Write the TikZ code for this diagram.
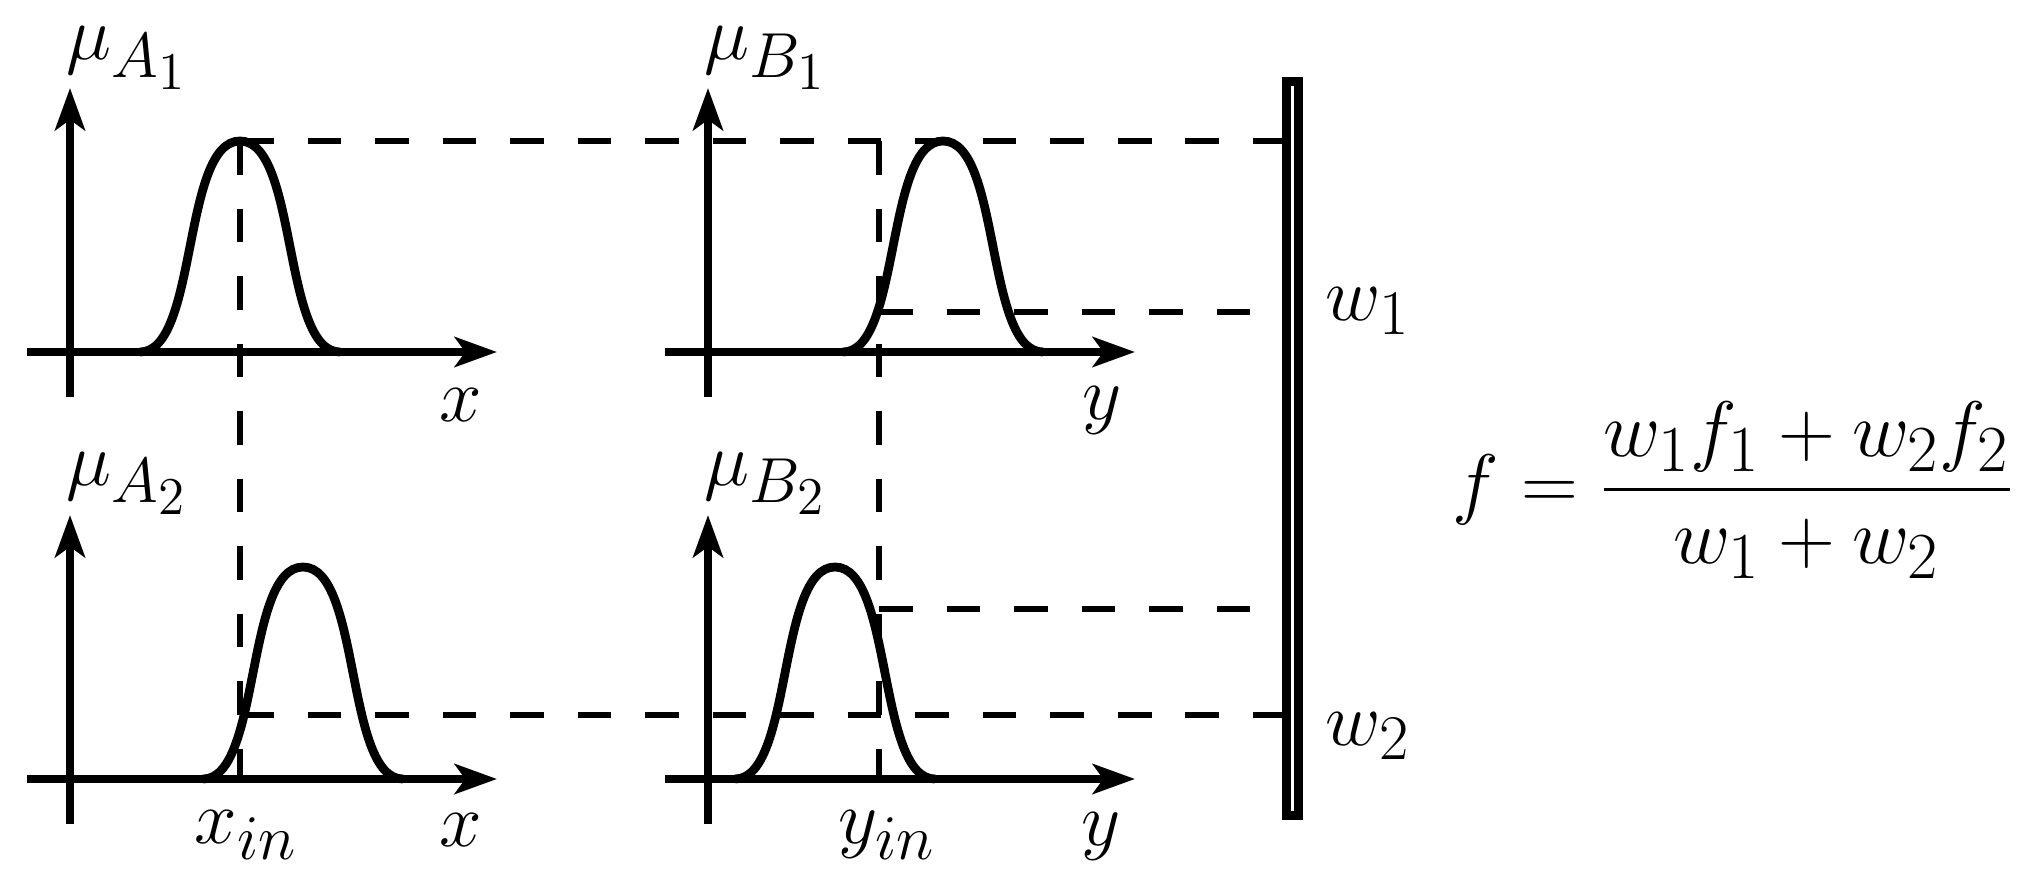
\RequirePackage{fix-cm}
\documentclass[tikz,border=0pt]{standalone}
\usepackage{amsmath}
\usetikzlibrary{arrows.meta}
\DeclareMathSizes{21.7}{21.7}{18.1}{15.1}
\DeclareMathSizes{22.4}{22.4}{18.7}{15.6}
\begin{document}
\begin{tikzpicture}[x=0.01cm,y=-0.01cm,
  axis/.style={line width=2.4pt,-{Stealth[length=12pt,width=8.5pt,inset=3pt]}},
  curve/.style={line width=2.5pt,line join=round},
  guide/.style={line width=1.45pt,dash pattern=on 9.6pt off 9.6pt},
  lab/.style={inner sep=0pt,font=\fontsize{21.7}{26}\selectfont},
  formula/.style={inner sep=0pt,font=\fontsize{22.4}{27}\selectfont},
  barstyle/.style={line width=2.6pt}]
\useasboundingbox (0,0) rectangle (2037,873);

% origins of the four panels
\coordinate (oA1) at (70,352);
\coordinate (oB1) at (708,352);
\coordinate (oA2) at (70,779);
\coordinate (oB2) at (708,779);

% guide points
\coordinate (pA1) at (240,141);
\coordinate (xA) at (240,779);
\coordinate (cB) at (879,141);
\coordinate (xB) at (879,779);
\coordinate (qB1) at (879,312);
\coordinate (qB2) at (879,609);
\coordinate (qA2) at (240,715);
\coordinate (b0) at (1282,141);
\coordinate (b1) at (1282,312);
\coordinate (b2) at (1282,609);
\coordinate (b3) at (1282,715);

% dashed guides
\draw[guide] (pA1) -- (b0);
\draw[guide] (pA1) -- (xA);
\draw[guide] (cB) -- (xB);
\draw[guide] (qB1) -- (b1);
\draw[guide] (qB2) -- (b2);
\draw[guide] (qA2) -- (b3);

% axes
\foreach \o in {oA1,oB1,oA2,oB2}{
  \draw[axis] (\o) ++(-43,0) -- ++(470,0);
  \draw[axis] (\o) ++(0,45) -- ++(0,-309);
}

% membership curves
\draw[curve] (140,352) .. controls (198,352) and (182,141) .. (240,141) .. controls (298,141) and (282,352) .. (340,352);
\draw[curve] (843,352) .. controls (901,352) and (885,141) .. (943,141) .. controls (1001,141) and (985,352) .. (1043,352);
\draw[curve] (203,779) .. controls (261,779) and (245,567) .. (303,567) .. controls (361,567) and (345,779) .. (403,779);
\draw[curve] (735,779) .. controls (793,779) and (777,567) .. (835,567) .. controls (893,567) and (877,779) .. (935,779);

% bar
\draw[barstyle] (1286.5,81.5) rectangle (1298.5,815.5);

% labels
\node[lab,anchor=base west] (muA1) at (66,60) {$\mu_{A_1}$};
\node[lab,anchor=base west] (muB1) at (704,60) {$\mu_{B_1}$};
\node[lab,anchor=base west] (muA2) at (66,485) {$\mu_{A_2}$};
\node[lab,anchor=base west] (muB2) at (704,485) {$\mu_{B_2}$};
\node[lab,anchor=north] (lx1) at (461,388) {$x$};
\node[lab,anchor=north] (ly1) at (1102,386) {$y$};
\node[lab,anchor=north] (lx2) at (461,813) {$x$};
\node[lab,anchor=north] (ly2) at (1101,812) {$y$};
\node[lab,anchor=north] (xin) at (246,810) {$x_{in}$};
\node[lab,anchor=north] (yin) at (887,810) {$y_{in}$};
\node[lab,anchor=base west] (w1) at (1325,320) {$w_1$};
\node[lab,anchor=base west] (w2) at (1325,745) {$w_2$};
\node[formula,anchor=west] (f) at (1452,490) {$\displaystyle f=\frac{w_1f_1+w_2f_2}{w_1+w_2}$};
\end{tikzpicture}
\end{document}
